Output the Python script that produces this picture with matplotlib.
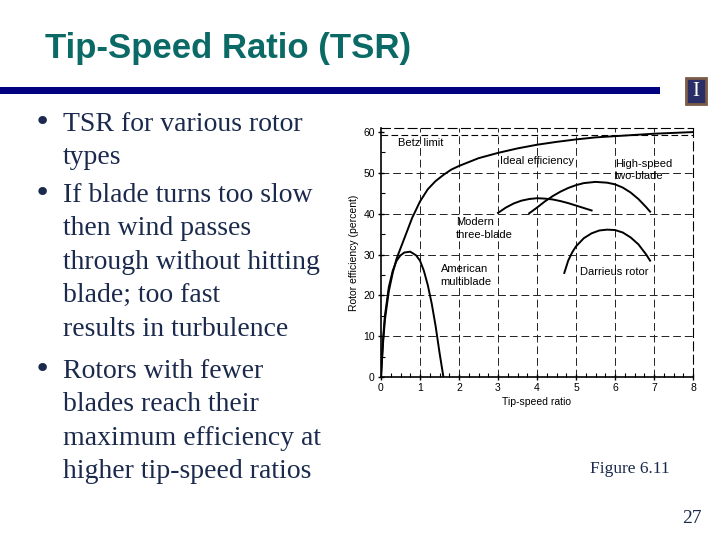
import matplotlib
matplotlib.use("Agg")
import matplotlib.pyplot as plt
from matplotlib.patches import Rectangle
from matplotlib.ticker import MultipleLocator

# slide text
title = "Tip-Speed Ratio (TSR)"
bullets = [
    ["TSR for various rotor", "types"],
    ["If blade turns too slow", "then wind passes", "through without hitting",
     "blade; too fast", "results in turbulence"],
    ["Rotors with fewer", "blades reach their", "maximum efficiency at",
     "higher tip-speed ratios"],
]

# curves (tip-speed ratio, efficiency %)
ideal_x = [0, 0.05, 0.1, 0.2, 0.3, 0.4, 0.5, 0.6, 0.7, 0.8, 0.9, 1.0, 1.2, 1.4,
           1.6, 1.8, 2.0, 2.5, 3.0, 3.5, 4.0, 4.5, 5.0, 5.5, 6.0, 7.0, 8.0]
ideal_y = [0, 8, 14, 21, 25.5, 29, 31.5, 34, 36.5, 39, 41, 43, 46, 48,
           49.5, 50.8, 51.7, 53.6, 54.9, 56, 56.9, 57.6, 58.2, 58.7, 59.0, 59.6, 60.0]

american_x = [0, 0.05, 0.1, 0.2, 0.3, 0.4, 0.5, 0.6, 0.75, 0.9, 1.0, 1.1, 1.2,
              1.3, 1.4, 1.5, 1.55, 1.6]
american_y = [0, 9, 15, 22, 26, 28.5, 29.8, 30.5, 30.7, 29.8, 28.5, 26, 22.5,
              18, 12.5, 6, 3, 0]

three_x = [3.0, 3.2, 3.4, 3.6, 3.8, 4.0, 4.2, 4.4, 4.6, 4.8, 5.0, 5.2, 5.4]
three_y = [40.2, 41.5, 42.5, 43.2, 43.6, 43.8, 43.7, 43.5, 43.1, 42.6, 42.0, 41.4, 40.8]

two_x = [3.8, 4.0, 4.2, 4.4, 4.6, 4.8, 5.0, 5.2, 5.5, 5.8, 6.0, 6.2, 6.4, 6.6, 6.8, 6.9]
two_y = [40.1, 41.5, 43.0, 44.3, 45.4, 46.3, 47.0, 47.5, 47.8, 47.6, 47.2, 46.4,
         45.2, 43.6, 41.6, 40.5]

darrieus_x = [4.7, 4.8, 4.9, 5.0, 5.2, 5.4, 5.6, 5.8, 6.0, 6.2, 6.4, 6.6, 6.8, 6.9]
darrieus_y = [25.5, 28.5, 30.5, 32, 34, 35.2, 35.9, 36.1, 36.0, 35.4, 34.2, 32.5, 30.0, 28.5]

betz = 59.3

W, H = 720, 540
fig = plt.figure(figsize=(7.2, 5.4), dpi=100)
fig.patch.set_facecolor("white")

def fx(px):
    return px / W

def fy(py):
    return 1 - py / H

# header
fig.text(fx(45), fy(58), title, fontsize=25, fontweight="bold",
         color="#0b6a66", family="Liberation Sans", va="baseline")
fig.patches.append(Rectangle((0, fy(94)), fx(660), 7 / H, transform=fig.transFigure,
                             facecolor="#000080", edgecolor="none"))
# logo
fig.patches.append(Rectangle((fx(686), fy(104)), 20 / W, 26 / H, transform=fig.transFigure,
                             facecolor="#2b2d66", edgecolor="#7a5a48", linewidth=2))
fig.text(fx(696), fy(91), "I", fontsize=15, color="white", family="Liberation Serif",
         ha="center", va="center")

# bullets
txt_color = "#1b2a4c"
baselines = [[131, 164], [202, 235, 269, 302, 336], [378, 411, 445, 478]]
for lines, ys in zip(bullets, baselines):
    fig.text(fx(42), fy(ys[0] - 9), "\u2022", fontsize=21, color=txt_color,
             family="DejaVu Sans", ha="center", va="center")
    for line, y in zip(lines, ys):
        fig.text(fx(63), fy(y), line, fontsize=20, color=txt_color,
                 family="Liberation Serif", va="baseline")

fig.text(fx(590), fy(473), "Figure 6.11", fontsize=12.5, color=txt_color,
         family="Liberation Serif", va="baseline")
fig.text(fx(682), fy(523), "27", fontsize=14, color=txt_color,
         family="Liberation Serif", va="baseline")

# chart
ax = fig.add_axes([fx(381), fy(377), 312 / W, 249 / H])
ax.set_xlim(0, 8)
ax.set_ylim(0, 61)

lw = 1.4
ax.plot(ideal_x, ideal_y, color="black", lw=lw)
ax.plot(american_x, american_y, color="black", lw=lw)
ax.plot(three_x, three_y, color="black", lw=lw)
ax.plot(two_x, two_y, color="black", lw=lw)
ax.plot(darrieus_x, darrieus_y, color="black", lw=lw)
ax.axhline(betz, color="black", lw=0.8, ls=(0, (6, 3)))

dash = (0, (8, 4))
for xv in range(1, 8):
    ax.axvline(xv, color="#222222", lw=0.7, ls=dash, zorder=0)
for yv in range(10, 60, 10):
    ax.axhline(yv, color="#222222", lw=0.7, ls=dash, zorder=0)

for side in ["top", "right"]:
    ax.spines[side].set_linestyle(dash)
    ax.spines[side].set_linewidth(0.8)
for side in ["left", "bottom"]:
    ax.spines[side].set_linewidth(1.2)

ax.set_xticks(range(0, 9))
ax.set_yticks(range(0, 61, 10))
ax.xaxis.set_minor_locator(MultipleLocator(0.25))
ax.yaxis.set_minor_locator(MultipleLocator(5))
ax.tick_params(which="major", direction="inout", length=5, width=1, labelsize=7.5, pad=2)
ax.tick_params(which="minor", direction="in", length=3, width=0.8)
ax.tick_params(top=False, right=False)
for lab in ax.get_xticklabels() + ax.get_yticklabels():
    lab.set_family("Liberation Sans")

ax.set_xlabel("Tip-speed ratio", fontsize=7.5, family="Liberation Sans", labelpad=3)
ax.set_ylabel("Rotor efficiency (percent)", fontsize=7.5, family="Liberation Sans", labelpad=3)

lab_kw = dict(fontsize=8, family="Liberation Sans", va="center", ha="left", linespacing=1.35)
ax.text(0.43, 57.4, "Betz limit", **lab_kw)
ax.text(3.04, 52.9, "Ideal efficiency", **lab_kw)
ax.text(6.0, 50.7, "High-speed\ntwo-blade", **lab_kw)
ax.text(1.92, 36.4, "Modern\nthree-blade", **lab_kw)
ax.text(1.53, 24.9, "American\nmultiblade", **lab_kw)
ax.text(5.1, 25.8, "Darrieus rotor", **lab_kw)

fig.savefig("out.png", dpi=100, facecolor="white")
